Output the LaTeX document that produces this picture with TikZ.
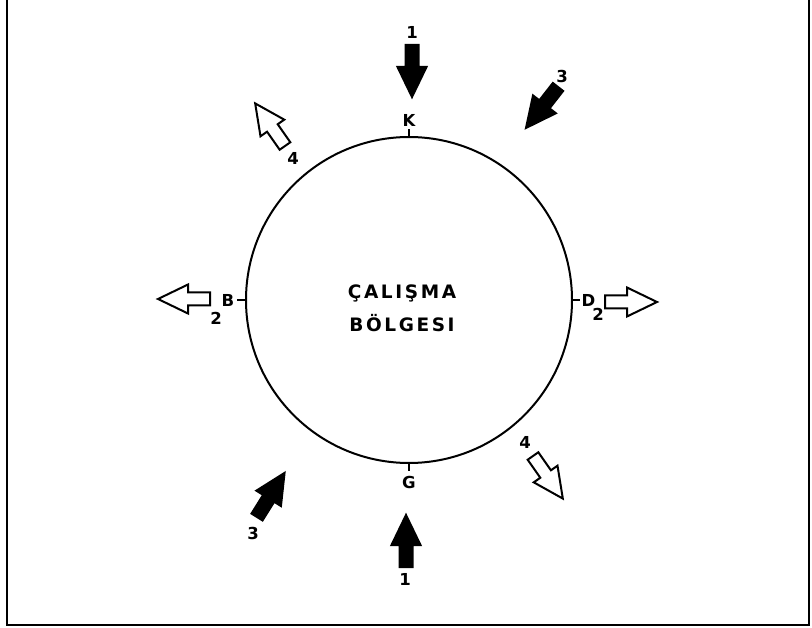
\documentclass[tikz,border=0pt]{standalone}
\usepackage{fontspec}
\setmainfont{DejaVu Sans}
\usetikzlibrary{positioning}

\newcommand\spc{\hspace{2.6pt}}

\tikzset{
  pics/flowarrow/.style={code={
    \path[arrowline, fill=#1] (0,-6.5) -- (22,-6.5) -- (22,-14.5) -- (52,0)
      -- (22,14.5) -- (22,6.5) -- (0,6.5) -- cycle;
  }},
}

\begin{document}
\begin{tikzpicture}[
    x=1pt, y=1pt,
    font=\fontsize{16.5}{18}\selectfont\bfseries,
    lbl/.style={inner sep=0.5pt},
    tick/.style={line width=1.5pt},
    arrowline/.style={draw=black, line width=2pt, line join=miter},
    zone/.style={circle, draw, line width=2pt, minimum size=326pt, inner sep=0pt},
    title/.style={font=\fontsize{18.5}{20}\selectfont\bfseries, anchor=base, inner sep=0pt}
]
\useasboundingbox (0,0) rectangle (812,-628);

% frame, open at the top
\draw[line width=1.8pt] (7,0) -- (7,-625) -- (809,-625) -- (809,0);

% study area
\node[zone] (zone) at (409,-300) {};
\node[title] (zone_l1) at (402,-299) {Ç\spc A\spc L\spc I\spc Ş\spc M\spc A};
\node[title] (zone_l2) at (402,-332) {B\spc Ö\spc L\spc G\spc E\spc S\spc I};

% compass ticks
\draw[tick] (zone.north) -- ++(0,7) coordinate (k_tick);
\node[lbl, above=2pt of k_tick] (k_lbl) {K};
\draw[tick] (zone.south) -- ++(0,-7) coordinate (g_tick);
\node[lbl, below=5pt of g_tick] (g_lbl) {G};
\draw[tick] (zone.west) -- ++(-8,0) coordinate (b_tick);
\node[lbl, left=2pt of b_tick] (b_lbl) {B};
\draw[tick] (zone.east) -- ++(7,0) coordinate (d_tick);
\node[lbl, right=1pt of d_tick] (d_lbl) {D};

% black arrows (in)
\pic[rotate=-90] at (412,-45)  {flowarrow=black};
\pic[rotate=90]  at (406,-567) {flowarrow=black};
\pic[rotate=232] at (558,-87)  {flowarrow=black};
\pic[rotate=58]  at (257,-517) {flowarrow=black};

% white arrows (out)
\pic[rotate=125] at (285,-146) {flowarrow=white};
\pic[rotate=-55] at (533,-456) {flowarrow=white};
\pic[rotate=180] at (210,-299) {flowarrow=white};
\pic[rotate=0]   at (605,-302) {flowarrow=white};

% arrow numbers
\node[lbl] (n1_top) at (412,-32)  {1};
\node[lbl] (n1_bot) at (405,-579) {1};
\node[lbl] (n2_lft) at (216,-318) {2};
\node[lbl] (n2_rgt) at (598,-314) {2};
\node[lbl] (n3_top) at (562,-76)  {3};
\node[lbl] (n3_bot) at (253,-533) {3};
\node[lbl] (n4_top) at (293,-158) {4};
\node[lbl] (n4_bot) at (525,-442) {4};

\end{tikzpicture}
\end{document}
